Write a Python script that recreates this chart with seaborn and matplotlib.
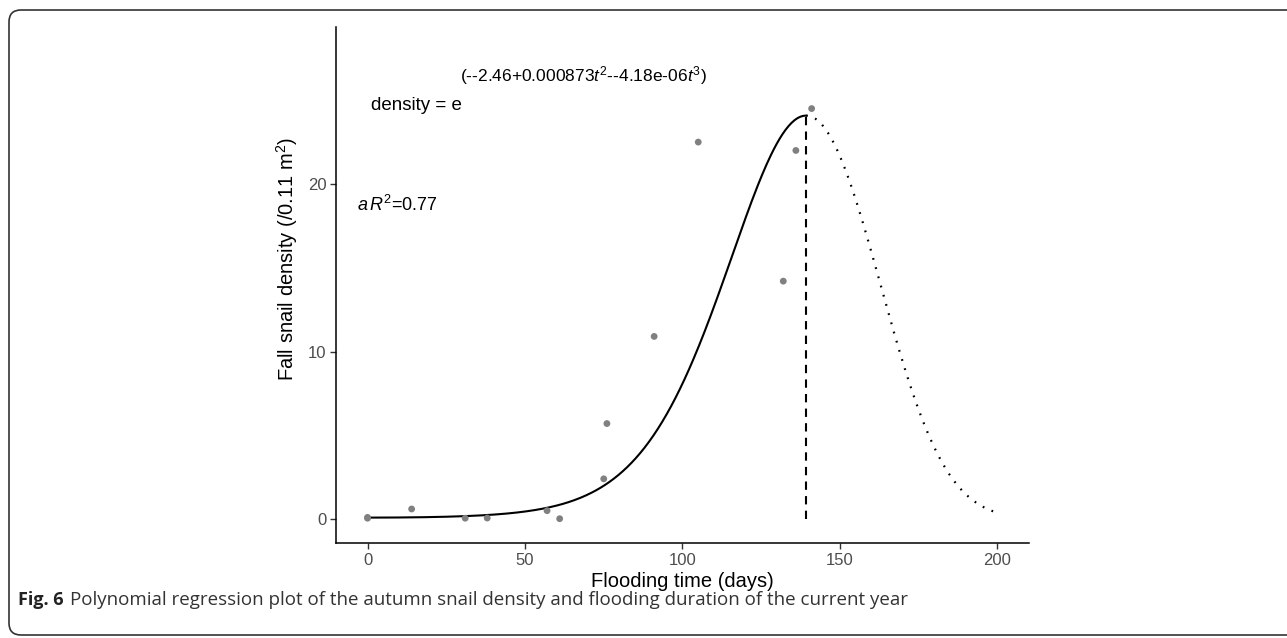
import numpy as np
import pandas as pd
import seaborn as sns
import matplotlib.pyplot as plt
from matplotlib.patches import FancyBboxPatch

##############################################
# observed points (flooding days, fall snail density)
flood_days = [0, 0, 14, 31, 38, 57, 61, 75, 76, 91, 105, 132, 136, 141]
snail_density = [0.1, 0.05, 0.6, 0.05, 0.06, 0.5, 0.02, 2.4, 5.7, 10.9, 22.5, 14.2, 22.0, 24.5]

# fitted model printed on the chart: density = exp(b0 + b2 t^2 + b3 t^3)
coef_b0 = -2.46
coef_b2 = 0.000873
coef_b3 = -4.18e-06
fit_end = 199

x_ticks = [0, 50, 100, 150, 200]
y_ticks = [0, 10, 20]

sns.set_theme(style="white")
plt.rcParams["font.family"] = ["Liberation Sans", "DejaVu Sans"]
plt.rcParams["mathtext.fontset"] = "custom"
plt.rcParams["mathtext.rm"] = "Liberation Sans"
plt.rcParams["mathtext.it"] = "Liberation Sans:italic"
plt.rcParams["mathtext.bf"] = "Liberation Sans:bold"


def fitted(t):
    return np.exp(coef_b0 + coef_b2 * t ** 2 + coef_b3 * t ** 3)


# peak of the fitted curve
t_peak = -2 * coef_b2 / (3 * coef_b3)
t_in = np.linspace(0, t_peak, 300)
t_out = np.linspace(t_peak, fit_end, 200)
df_in = pd.DataFrame({"t": t_in, "d": fitted(t_in)})
df_out = pd.DataFrame({"t": t_out, "d": fitted(t_out)})
df_pts = pd.DataFrame({"t": flood_days, "d": snail_density})

fig = plt.figure(figsize=(12.87, 6.38), dpi=100)
ax = fig.add_axes([0.2611, 0.1489, 0.5384, 0.8088])

sns.lineplot(data=df_in, x="t", y="d", ax=ax, color="black", lw=1.5, errorbar=None)
sns.lineplot(data=df_out, x="t", y="d", ax=ax, color="black", lw=1.6,
             linestyle=(0, (0.8, 3.5)), errorbar=None)
ax.plot([t_peak, t_peak], [0, fitted(t_peak)], color="black", lw=1.5,
        linestyle=(0, (4, 3)))
sns.scatterplot(data=df_pts, x="t", y="d", ax=ax, color="#808080", s=24,
                edgecolor="none", zorder=5)

ax.set_xlim(-10, 210)
ax.set_ylim(-1.43, 29.37)
ax.set_xticks(x_ticks)
ax.set_yticks(y_ticks)
ax.tick_params(axis="both", length=4, width=1, color="#333333",
               labelcolor="#4D4D4D", labelsize=12, direction="out",
               bottom=True, left=True, pad=3)
sns.despine(ax=ax)
for side in ("left", "bottom"):
    ax.spines[side].set_color("black")
    ax.spines[side].set_linewidth(1.1)

ax.set_xlabel("Flooding time (days)", fontsize=14.5, color="black", labelpad=3)
ax.set_ylabel(r"Fall snail density (/0.11 m$^2$)", fontsize=14.5, color="black")
ax.yaxis.set_label_coords(-0.052, 0.55)

# equation and adjusted R2
base = ax.text(1.2, 24.66, "density = e", fontsize=13.5, va="center", ha="left",
               color="black")
ax.annotate(r"$(\text{--2.46+0.000873}t^2\text{--4.18e-06}t^3)$",
            xy=(1, 0.5), xycoords=base, xytext=(-2, 30), textcoords="offset pixels",
            fontsize=12.5, va="center", ha="left", color="black")
ax.text(-3.2, 18.75, r"$a\,R^2$=0.77", fontsize=13, va="center", ha="left",
        color="black")

# caption and rounded frame
fig_label = fig.text(18 / 1287, 1 - 600 / 638, "Fig. 6", fontsize=13, fontweight="bold",
                     family=["Open Sans", "DejaVu Sans"], va="center", ha="left",
                     color="#222222")
fig.text(70 / 1287, 1 - 600 / 638,
         "Polynomial regression plot of the autumn snail density and flooding duration of the current year",
         fontsize=13.5, family=["Open Sans", "DejaVu Sans"], va="center", ha="left",
         color="#333333")

frame = FancyBboxPatch((9, 3), 1300, 625, boxstyle="round,pad=0,rounding_size=12",
                       transform=None, fill=False, edgecolor="#333333", lw=1.2)
fig.patches.append(frame)

plt.savefig("out.png", dpi=100)
plt.close()
